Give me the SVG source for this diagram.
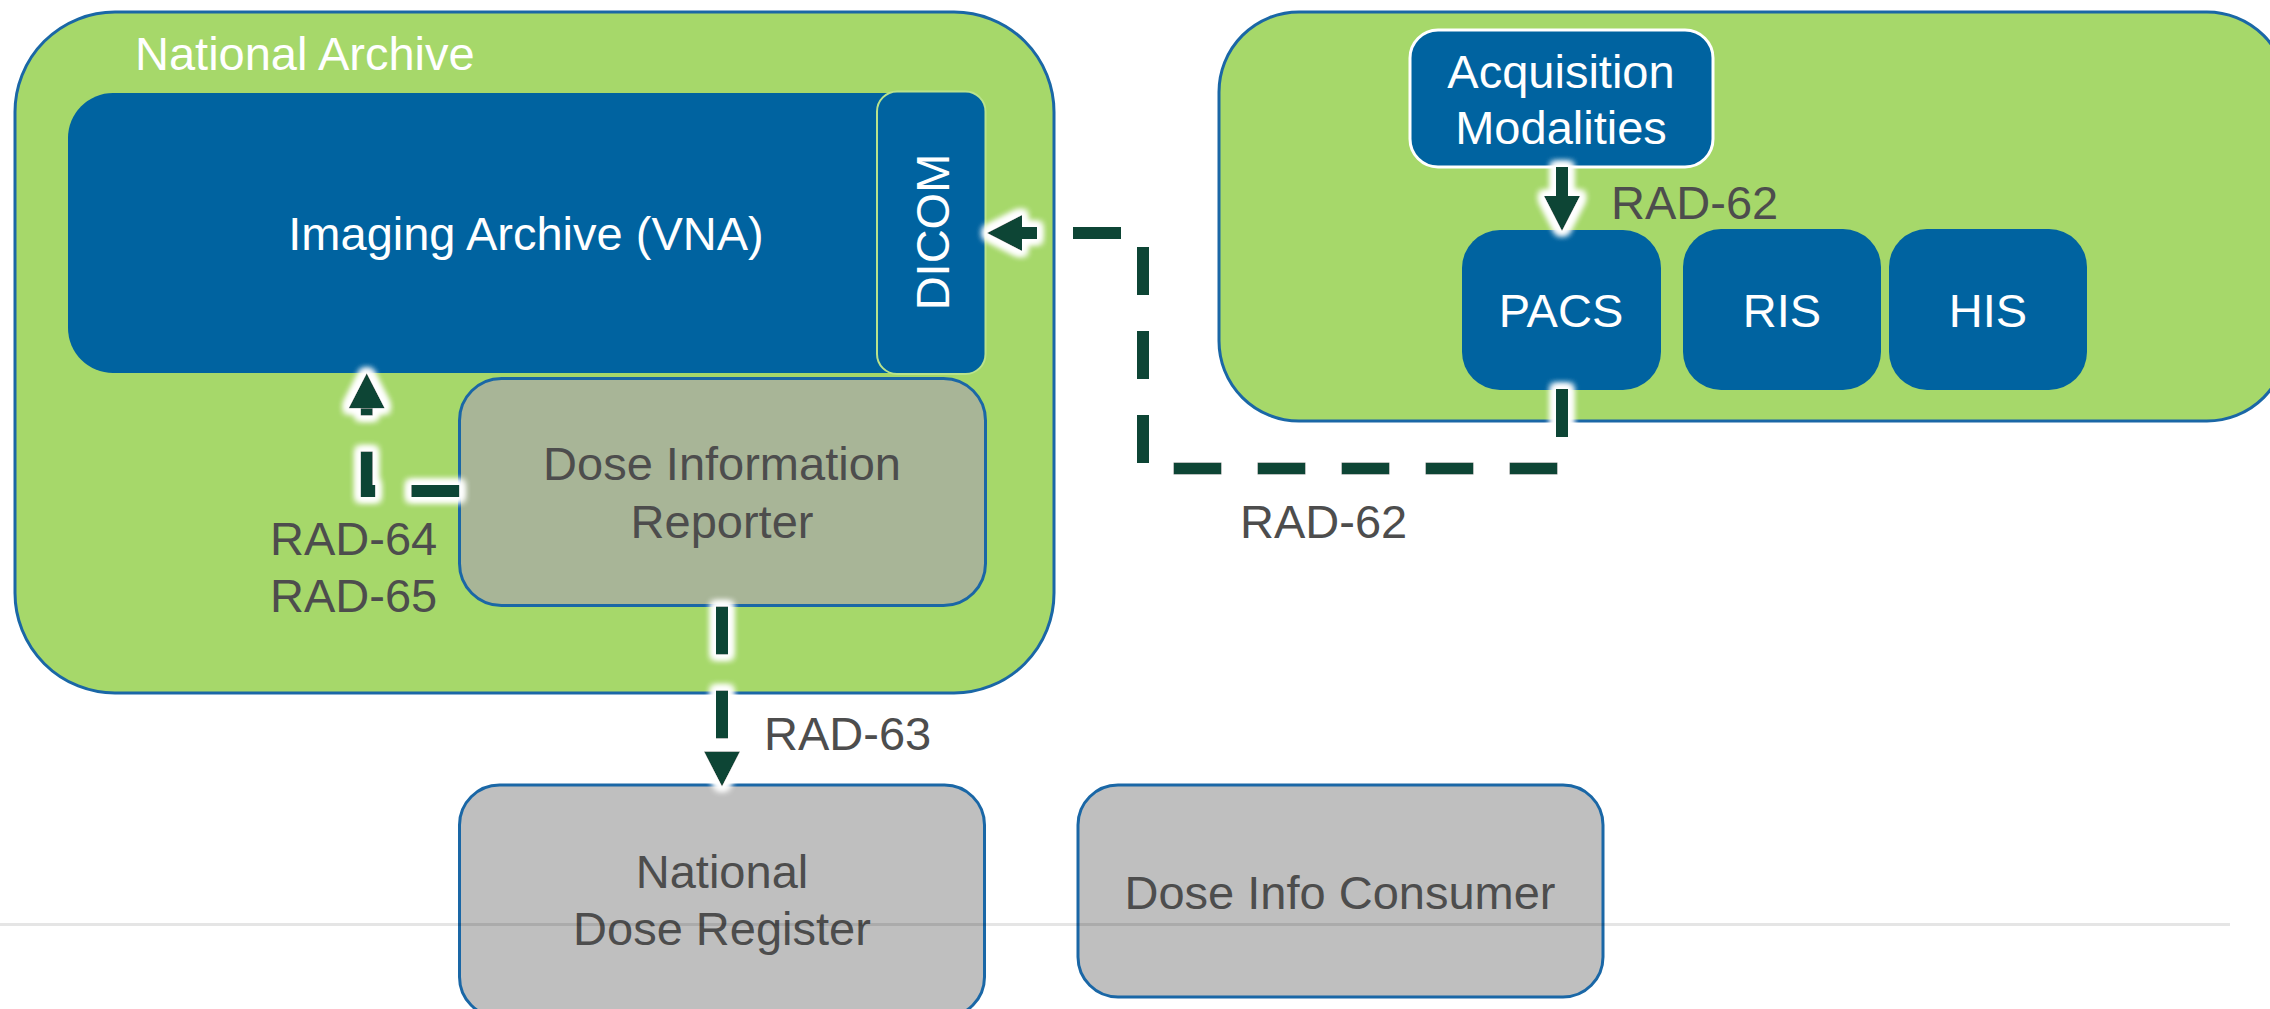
<svg xmlns="http://www.w3.org/2000/svg" width="2270" height="1009" viewBox="0 0 2270 1009">
  <style>
    .t { font-family: "Liberation Sans", Arial, sans-serif; font-size: 47px; }
    .w { fill: #FFFFFF; }
    .g { fill: #4D4D4D; }
    .mid { text-anchor: middle; }
    .zone { fill: #A6D86A; stroke: #1A67A6; stroke-width: 3; }
    .blue { fill: #0063A0; }
    .grey { fill: #BFBFBF; stroke: #1A67A6; stroke-width: 3; }
    .conn { fill: none; stroke: #0B4534; stroke-width: 12; stroke-linejoin: miter; stroke-linecap: butt; }
    .dash { stroke-dasharray: 48 36; }
  </style>
  <defs>
    <marker id="arrow" markerUnits="userSpaceOnUse" markerWidth="36" markerHeight="36" refX="0" refY="18" orient="auto" overflow="visible">
      <path d="M0,0 L35,18 L0,36 Z" fill="#0B4534"/>
    </marker>
    <filter id="glow" filterUnits="userSpaceOnUse" x="0" y="0" width="2270" height="1009">
      <feMorphology in="SourceAlpha" operator="dilate" radius="4" result="d"/>
      <feGaussianBlur in="d" stdDeviation="3.5" result="b"/>
      <feFlood flood-color="#FFFFFF" result="f"/>
      <feComposite in="f" in2="b" operator="in" result="gl"/>
      <feMerge>
        <feMergeNode in="gl"/>
        <feMergeNode in="gl"/>
        <feMergeNode in="gl"/>
        <feMergeNode in="SourceGraphic"/>
      </feMerge>
    </filter>
  </defs>

  <rect x="0" y="0" width="2270" height="1009" fill="#FFFFFF"/>

  <g id="national-archive">
    <rect class="zone" x="15" y="12" width="1039" height="681" rx="100" ry="100"/>
    <text class="t w" x="135" y="70">National Archive</text>
  </g>

  <g id="hospital">
    <rect class="zone" x="1219" y="12" width="1068" height="409" rx="80" ry="80"/>
  </g>

  <g id="imaging-archive">
    <rect class="blue" x="68" y="93" width="900" height="280" rx="45" ry="45"/>
    <text class="t w mid" x="526" y="250">Imaging Archive (VNA)</text>
  </g>

  <g id="dicom">
    <rect class="blue" x="877" y="91.5" width="108.5" height="282.5" rx="20" ry="20" stroke="#B9E38C" stroke-width="2"/>
    <text class="t w mid" transform="translate(949,232) rotate(-90)" x="0" y="0">DICOM</text>
  </g>

  <g id="dose-information-reporter">
    <rect x="459.5" y="378.5" width="526" height="227" rx="42" ry="42" fill="#A8B597" stroke="#1A67A6" stroke-width="3"/>
    <text class="t g mid" x="722" y="480">Dose Information</text>
    <text class="t g mid" x="722" y="538">Reporter</text>
  </g>

  <g id="acquisition-modalities">
    <rect class="blue" x="1410" y="30" width="303" height="137" rx="28" ry="28" stroke="#FFFFFF" stroke-width="3"/>
    <text class="t w mid" x="1561" y="88">Acquisition</text>
    <text class="t w mid" x="1561" y="144">Modalities</text>
  </g>

  <g id="pacs">
    <rect class="blue" x="1462" y="230" width="199" height="160" rx="38" ry="38"/>
    <text class="t w mid" x="1561" y="327">PACS</text>
  </g>

  <g id="ris">
    <rect class="blue" x="1683" y="229" width="198" height="161" rx="38" ry="38"/>
    <text class="t w mid" x="1782" y="327">RIS</text>
  </g>

  <g id="his">
    <rect class="blue" x="1889" y="229" width="198" height="161" rx="38" ry="38"/>
    <text class="t w mid" x="1988" y="327">HIS</text>
  </g>

  <g id="national-dose-register">
    <rect class="grey" x="459.5" y="785" width="525" height="232" rx="40" ry="40"/>
    <text class="t g mid" x="722" y="888">National</text>
    <text class="t g mid" x="722" y="945">Dose Register</text>
  </g>

  <g id="dose-info-consumer">
    <rect class="grey" x="1078" y="785" width="525" height="212" rx="40" ry="40"/>
    <text class="t g mid" x="1340" y="909">Dose Info Consumer</text>
  </g>

  <g id="connectors" filter="url(#glow)">
    <path class="conn dash" d="M459.3,491 H366.7 V408.3" marker-end="url(#arrow)"/>
    <path class="conn dash" d="M1562,389 V468.5 H1143 V233 H1022" marker-end="url(#arrow)"/>
    <path class="conn" d="M1562,167 V196" marker-end="url(#arrow)"/>
    <path class="conn dash" d="M722,606.5 V751.5" marker-end="url(#arrow)"/>
  </g>

  <g id="labels">
    <text class="t g" x="270" y="555">RAD-64</text>
    <text class="t g" x="270" y="612">RAD-65</text>
    <text class="t g" x="1611" y="219">RAD-62</text>
    <text class="t g" x="1240" y="538">RAD-62</text>
    <text class="t g" x="764" y="750">RAD-63</text>
  </g>

  <line x1="0" y1="924.5" x2="2230" y2="924.5" stroke="#000000" stroke-opacity="0.1" stroke-width="3"/>
</svg>
